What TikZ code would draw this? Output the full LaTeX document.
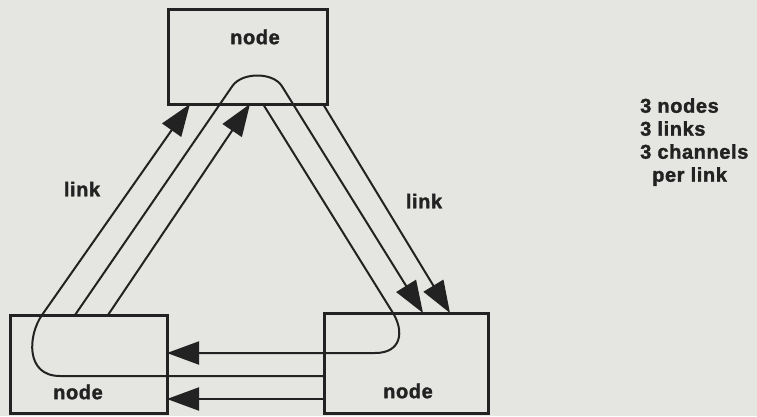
\documentclass[tikz,border=0pt]{standalone}
\usepackage{fontspec}
\setmainfont{Liberation Sans}
\newfontfamily\labelfont[LetterSpace=3,FakeBold=1.6]{Liberation Sans}
\usetikzlibrary{arrows.meta}

\definecolor{paper}{RGB}{229,229,225}
\definecolor{ink}{RGB}{34,34,34}

\tikzset{
  box/.style={draw=ink, line width=3pt, inner sep=0pt},
  chan/.style={draw=ink, line width=2pt, line join=round},
  tip/.style={-{Triangle[length=32pt,width=23pt]}},
  txt/.style={font=\labelfont\bfseries\fontsize{20}{23}\selectfont, text=ink, inner sep=0pt}
}

\begin{document}
\begin{tikzpicture}[x=1pt,y=-1pt]
  % page
  \fill[paper] (0,0) rectangle (757,416);
  \useasboundingbox (0,0) rectangle (757,416);

  % the three nodes
  \node[box, minimum width=159pt, minimum height=95pt]  (top) at (247.5,56.5) {};
  \node[box, minimum width=157pt, minimum height=98pt]  (bl)  at (88.5,364) {};
  \node[box, minimum width=164pt, minimum height=100pt] (br)  at (406,363) {};

  \node[txt] (toplbl) at (255,37)  {node};
  \node[txt] (bllbl)  at (78,392)  {node};
  \node[txt] (brlbl)  at (408,391) {node};

  % channel end points on the box edges
  \coordinate (l1b) at (42,315);   \coordinate (l1t) at (190,104);
  \coordinate (l2b) at (75,315);   \coordinate (l2t) at (220,104);
  \coordinate (l3b) at (108,315);  \coordinate (l3t) at (250,104);
  \coordinate (r1t) at (263,104);  \coordinate (r1b) at (393,313);
  \coordinate (r2t) at (293,104);  \coordinate (r2b) at (423,313);
  \coordinate (r3t) at (323,104);  \coordinate (r3b) at (450,313);
  \coordinate (h1l) at (167,353);
  \coordinate (h2r) at (324,376);
  \coordinate (h3r) at (324,399);  \coordinate (h3l) at (167,399);

  % channel passing over the top node
  \draw[chan, tip] (l2b) -- (l2t) -- (232.4,86)
        .. controls (242,72) and (273,72) .. (281.8,86) -- (r2b);
  % channel looping through the bottom-left node
  \draw[chan, tip] (h2r) -- (60,376)
        .. controls (25,376) and (28,335) .. (l1b) -- (l1t);
  % channel looping through the bottom-right node
  \draw[chan, tip] (r1t) -- (r1b)
        .. controls (404,331) and (402,353) .. (375,353) -- (h1l);
  % direct channels
  \draw[chan, tip] (l3b) -- (l3t);
  \draw[chan, tip] (r3t) -- (r3b);
  \draw[chan, tip] (h3r) -- (h3l);

  % labels
  \node[txt] (linkL) at (82,189)  {link};
  \node[txt] (linkR) at (424,201) {link};
  \node[txt, align=left, anchor=north west] (summary) at (640,98)
    {3 nodes\\3 links\\3 channels\\\hspace*{12pt}per link};
\end{tikzpicture}
\end{document}
